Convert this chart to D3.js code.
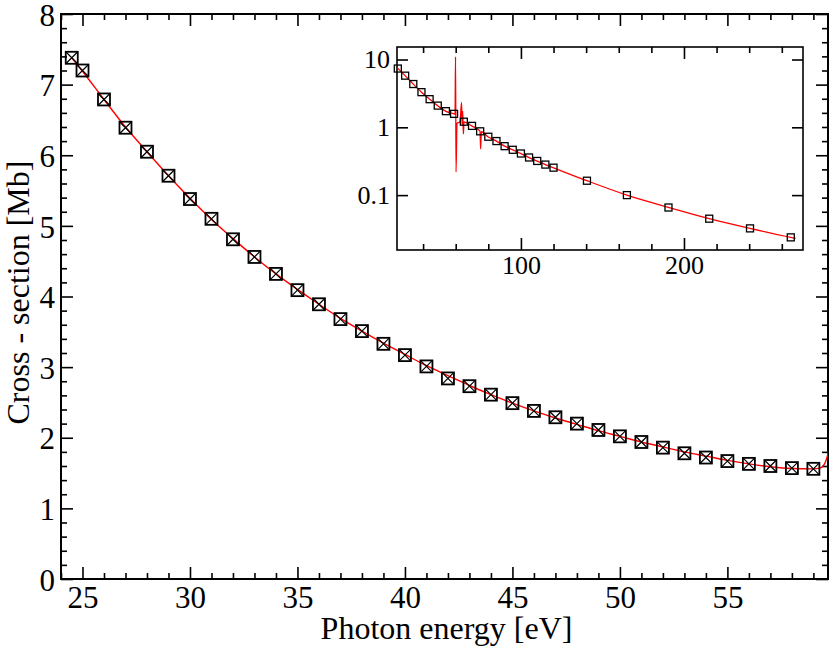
<!DOCTYPE html>
<html>
<head>
<meta charset="utf-8">
<script src="https://cdn.jsdelivr.net/npm/d3@7"></script>
<style>
  html, body { margin: 0; padding: 0; background: #fff; }
  svg { display: block; }
  svg text { font-family: "Liberation Serif", "Times New Roman", Times, Tinos, "Nimbus Roman", "DejaVu Serif", "Noto Serif", serif !important; fill: #000; }
</style>
</head>
<body>
<svg id="chart" width="830" height="650"></svg>
<script>
// ---------- Main chart data ----------
const energy = [24.5, 25, 26, 27, 28, 29, 30, 31, 32, 33, 34, 35, 36, 37, 38, 39, 40, 41, 42,
  43, 44, 45, 46, 47, 48, 49, 50, 51, 52, 53, 54, 55, 56, 57, 58, 59];
const sigma = [7.38, 7.20, 6.79, 6.39, 6.05, 5.71, 5.38, 5.10, 4.81, 4.56, 4.32, 4.09, 3.89, 3.68,
  3.51, 3.33, 3.17, 3.01, 2.84, 2.73, 2.61, 2.49, 2.38, 2.29, 2.20, 2.11, 2.02, 1.94, 1.86, 1.78,
  1.72, 1.67, 1.63, 1.60, 1.57, 1.56];
const curveEnergy = [24.5, 25, 26, 27, 28, 29, 30, 31, 32, 33, 34, 35, 36, 37, 38, 39, 40, 41, 42,
  43, 44, 45, 46, 47, 48, 49, 50, 51, 52, 53, 54, 55, 56, 57, 58, 59, 59.3, 59.45, 59.55, 59.65, 59.72];
const curveSigma = [7.38, 7.19, 6.79, 6.40, 6.05, 5.71, 5.39, 5.09, 4.82, 4.56, 4.32, 4.10, 3.89, 3.69,
  3.51, 3.34, 3.18, 3.02, 2.88, 2.74, 2.61, 2.49, 2.38, 2.28, 2.19, 2.10, 2.02, 1.94, 1.87, 1.80,
  1.74, 1.68, 1.63, 1.59, 1.565, 1.56, 1.57, 1.60, 1.65, 1.74, 1.82];
const xMajorTicks = [25, 30, 35, 40, 45, 50, 55];
const yMajorTicks = [0, 1, 2, 3, 4, 5, 6, 7, 8];

// ---------- Inset data ----------
const insetEnergy = [24.5, 29, 34, 39, 44, 49, 54, 59, 65, 70, 75, 80, 85, 90, 95, 100, 105, 110,
  115, 120, 140.5, 165, 190.5, 215.5, 240.5, 265.5];
const insetSigma = [7.36, 5.78, 4.35, 3.30, 2.60, 2.09, 1.73, 1.58, 1.21, 1.05, 0.873, 0.726, 0.627,
  0.527, 0.466, 0.411, 0.359, 0.319, 0.282, 0.254, 0.163, 0.100, 0.0656, 0.0449, 0.0323, 0.0238];
const insetCurveEnergy = [24.5, 29, 34, 39, 44, 49, 54, 59, 59.6, 59.9, 60.2, 60.8, 62.6, 63.6, 63.9,
  64.3, 64.7, 65.1, 70, 74.9, 75.3, 75.7, 80, 85, 90, 95, 100, 105, 110, 115, 120, 140.5, 165, 190.5,
  215.5, 240.5, 265.5, 268.5];
const insetCurveSigma = [7.40, 5.78, 4.33, 3.30, 2.60, 2.08, 1.72, 1.58, 1.55, 11, 0.22, 1.15, 1.20,
  2.34, 1.10, 1.72, 0.80, 1.20, 1.04, 0.88, 0.48, 0.86, 0.72, 0.625, 0.527, 0.465, 0.41, 0.358, 0.318,
  0.282, 0.253, 0.163, 0.100, 0.066, 0.045, 0.0323, 0.0238, 0.0230];
const insetXMajorTicks = [100, 200];
const insetYMajorTicks = [0.1, 1, 10];
const insetYTickLabels = ["0.1", "1", "10"];

// ---------- Drawing ----------
const FONT = '"Liberation Serif", "Times New Roman", Times, Tinos, "Nimbus Roman", "DejaVu Serif", "Noto Serif", serif';
const svg = d3.select("#chart");
const M = { left: 61, right: 828, top: 14, bottom: 579 };

const x = d3.scaleLinear().domain([24, 59.68]).range([M.left, M.right]);
const y = d3.scaleLinear().domain([0, 8]).range([M.bottom, M.top]);

svg.append("defs").append("clipPath").attr("id", "mainClip")
  .append("rect").attr("x", M.left).attr("y", M.top)
  .attr("width", M.right - M.left).attr("height", M.bottom - M.top);

function styleAxis(g, fontSize) {
  g.attr("font-family", null);
  g.select(".domain").remove();
  g.selectAll(".tick line").attr("stroke", "#000").attr("stroke-width", 1.6);
  g.selectAll(".tick text").style("font-size", fontSize + "px")
    .style("font-family", FONT).attr("fill", "#000");
}

const xMinor = d3.range(24, 60, 1).filter(v => !xMajorTicks.includes(v));
const yMinor = d3.range(0, 8.01, 0.2).map(v => +v.toFixed(1)).filter(v => !yMajorTicks.includes(v));

// bottom
svg.append("g").attr("transform", `translate(0,${M.bottom})`)
  .call(d3.axisBottom(x).tickValues(xMajorTicks).tickSize(-12).tickPadding(7).tickFormat(d3.format("d")))
  .call(g => styleAxis(g, 31));
svg.append("g").attr("transform", `translate(0,${M.bottom})`)
  .call(d3.axisBottom(x).tickValues(xMinor).tickSize(-6).tickFormat(""))
  .call(g => styleAxis(g, 31));
// top
svg.append("g").attr("transform", `translate(0,${M.top})`)
  .call(d3.axisTop(x).tickValues(xMajorTicks).tickSize(-12).tickFormat(""))
  .call(g => styleAxis(g, 31));
svg.append("g").attr("transform", `translate(0,${M.top})`)
  .call(d3.axisTop(x).tickValues(xMinor).tickSize(-6).tickFormat(""))
  .call(g => styleAxis(g, 31));
// left
svg.append("g").attr("transform", `translate(${M.left},0)`)
  .call(d3.axisLeft(y).tickValues(yMajorTicks).tickSize(-12).tickPadding(6).tickFormat(d3.format("d")))
  .call(g => styleAxis(g, 31))
  .call(g => g.selectAll(".tick text").attr("dy", "0.36em"));
svg.append("g").attr("transform", `translate(${M.left},0)`)
  .call(d3.axisLeft(y).tickValues(yMinor).tickSize(-6).tickFormat(""))
  .call(g => styleAxis(g, 31));
// right
svg.append("g").attr("transform", `translate(${M.right},0)`)
  .call(d3.axisRight(y).tickValues(yMajorTicks).tickSize(-12).tickFormat(""))
  .call(g => styleAxis(g, 31));
svg.append("g").attr("transform", `translate(${M.right},0)`)
  .call(d3.axisRight(y).tickValues(yMinor).tickSize(-6).tickFormat(""))
  .call(g => styleAxis(g, 31));

// frame
svg.append("rect").attr("x", M.left).attr("y", M.top)
  .attr("width", M.right - M.left).attr("height", M.bottom - M.top)
  .attr("fill", "none").attr("stroke", "#000").attr("stroke-width", 2);

// curve
const mainLine = d3.line().x(d => x(d[0])).y(d => y(d[1])).curve(d3.curveMonotoneX);
svg.append("path").datum(d3.zip(curveEnergy, curveSigma))
  .attr("clip-path", "url(#mainClip)")
  .attr("d", mainLine).attr("fill", "none").attr("stroke", "#ff0000").attr("stroke-width", 1.4);

// markers: square with X
const ms = 6;
const mk = svg.append("g").selectAll("g").data(d3.zip(energy, sigma)).join("g")
  .attr("transform", d => `translate(${x(d[0])},${y(d[1])})`);
mk.append("rect").attr("x", -ms).attr("y", -ms).attr("width", 2 * ms).attr("height", 2 * ms)
  .attr("fill", "none").attr("stroke", "#000").attr("stroke-width", 1.8);
mk.append("path").attr("d", `M${-ms},${-ms}L${ms},${ms}M${-ms},${ms}L${ms},${-ms}`)
  .attr("stroke", "#000").attr("stroke-width", 1.2);

// axis labels
svg.append("text").attr("x", (M.left + M.right) / 2 + 2).attr("y", 639)
  .attr("text-anchor", "middle").style("font-size", "32px").style("font-family", FONT)
  .text("Photon energy [eV]");
svg.append("text").attr("transform", `translate(29,${(M.top + M.bottom) / 2 - 4}) rotate(-90)`)
  .attr("text-anchor", "middle").style("font-size", "32px").style("font-family", FONT)
  .text("Cross - section [Mb]");

// ---------- Inset ----------
const I = { left: 397, right: 803, top: 47, bottom: 250 };
const xi = d3.scaleLinear().domain([24, 273]).range([I.left, I.right]);
const yi = d3.scaleLog().domain([0.0155, 15.3]).range([I.bottom, I.top]);

svg.append("rect").attr("x", I.left).attr("y", I.top)
  .attr("width", I.right - I.left).attr("height", I.bottom - I.top).attr("fill", "#fff");

svg.append("defs").append("clipPath").attr("id", "insetClip")
  .append("rect").attr("x", I.left).attr("y", I.top)
  .attr("width", I.right - I.left).attr("height", I.bottom - I.top);

const ixMinor = d3.range(40, 273, 20).filter(v => !insetXMajorTicks.includes(v));

svg.append("g").attr("transform", `translate(0,${I.bottom})`)
  .call(d3.axisBottom(xi).tickValues(insetXMajorTicks).tickSize(-12).tickPadding(6).tickFormat(d3.format("d")))
  .call(g => styleAxis(g, 26));
svg.append("g").attr("transform", `translate(0,${I.bottom})`)
  .call(d3.axisBottom(xi).tickValues(ixMinor).tickSize(-6).tickFormat(""))
  .call(g => styleAxis(g, 26));
svg.append("g").attr("transform", `translate(0,${I.top})`)
  .call(d3.axisTop(xi).tickValues(insetXMajorTicks).tickSize(-12).tickFormat(""))
  .call(g => styleAxis(g, 26));
svg.append("g").attr("transform", `translate(0,${I.top})`)
  .call(d3.axisTop(xi).tickValues(ixMinor).tickSize(-6).tickFormat(""))
  .call(g => styleAxis(g, 26));
svg.append("g").attr("transform", `translate(${I.left},0)`)
  .call(d3.axisLeft(yi).tickValues(insetYMajorTicks).tickSize(-11).tickPadding(7)
    .tickFormat((d, i) => insetYTickLabels[i]))
  .call(g => styleAxis(g, 26));
svg.append("g").attr("transform", `translate(${I.right},0)`)
  .call(d3.axisRight(yi).tickValues(insetYMajorTicks).tickSize(-11).tickFormat(""))
  .call(g => styleAxis(g, 26));

svg.append("rect").attr("x", I.left).attr("y", I.top)
  .attr("width", I.right - I.left).attr("height", I.bottom - I.top)
  .attr("fill", "none").attr("stroke", "#000").attr("stroke-width", 1.6);

const insetLine = d3.line().x(d => xi(d[0])).y(d => yi(d[1])).curve(d3.curveMonotoneX);
svg.append("path").datum(d3.zip(insetCurveEnergy, insetCurveSigma))
  .attr("clip-path", "url(#insetClip)")
  .attr("d", insetLine).attr("fill", "none").attr("stroke", "#ff0000").attr("stroke-width", 1.3);

const ims = 3.5;
svg.append("g").selectAll("rect").data(d3.zip(insetEnergy, insetSigma)).join("rect")
  .attr("x", d => xi(d[0]) - ims).attr("y", d => yi(d[1]) - ims)
  .attr("width", 2 * ims).attr("height", 2 * ims)
  .attr("fill", "none").attr("stroke", "#000").attr("stroke-width", 1.3);
</script>
</body>
</html>
